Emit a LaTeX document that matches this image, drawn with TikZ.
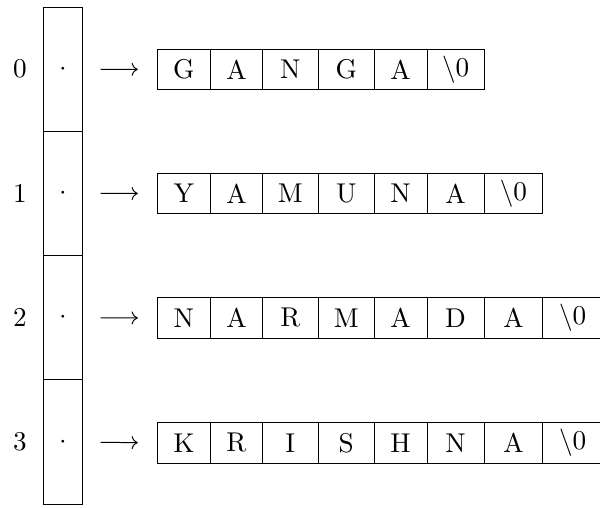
\documentclass[tikz,border=0pt]{standalone}
\usetikzlibrary{arrows.meta}
\begin{document}
\begin{tikzpicture}[x=0.4032pt,y=-0.4032pt,font=\fontsize{10.95}{13.6}\selectfont,
  ptrbox/.style={draw,line width=0.4pt,minimum width=39.4*0.4032pt,minimum height=124.3*0.4032pt,inner sep=0pt},
  strbox/.style={draw,line width=0.4pt,minimum height=40.8*0.4032pt,inner sep=0pt},
  lbl/.style={inner sep=0pt},
  ptrarrow/.style={line width=0.4pt,-{Computer Modern Rightarrow},shorten <=6.98pt,shorten >=7.66pt}]
\useasboundingbox (0,0) rectangle (600,508);
\def\bx{{157.3,210.5,262.4,318.4,374.2,427.1,484.1,542.8,602.5}}
\def\ry{{69.5,193.5,318,443}}
\foreach \w [count=\r from 0] in {{G,A,N,G,A,$\backslash$0},{Y,A,M,U,N,A,$\backslash$0},{N,A,R,M,A,D,A,$\backslash$0},{K,R,I,S,H,N,A,$\backslash$0}}{
  \pgfmathsetmacro{\py}{7+62.15+124.3*\r}
  \pgfmathsetmacro{\sy}{\ry[\r]}
  \node[ptrbox] (p\r) at (63,\py) {};
  \node[lbl] (d\r) at (63,\py) {$\cdot$};
  \node[lbl] (l\r) at (20,\py) {\r};
  \foreach \c [count=\i from 0] in \w {
    \pgfmathsetmacro{\xa}{\bx[\i]}
    \pgfmathsetmacro{\xb}{\bx[\i+1]}
    \node[strbox,minimum width={(\xb-\xa)*0.4032pt}] (s\r-\i) at ({(\xa+\xb)/2},\sy) {\c};
  }
  \draw[ptrarrow] (p\r) -- (s\r-0);
}
\end{tikzpicture}
\end{document}
